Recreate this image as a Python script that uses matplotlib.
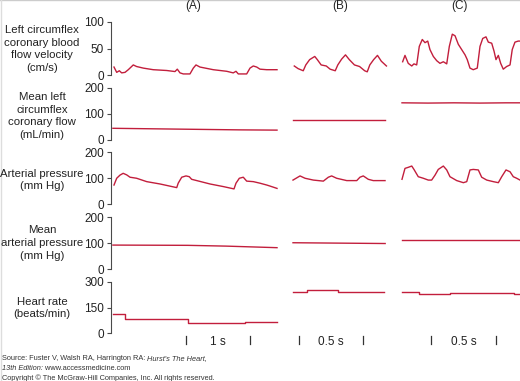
import matplotlib
matplotlib.use("Agg")
import matplotlib.pyplot as plt
import matplotlib.transforms as mtransforms
from matplotlib.lines import Line2D

plt.rcParams['font.family'] = ['Liberation Sans', 'DejaVu Sans']

# ---------------- data ----------------
columns = ["(A)", "(B)", "(C)"]
row_labels = [
    "Left circumflex\ncoronary blood\nflow velocity\n(cm/s)",
    "Mean left\ncircumflex\ncoronary flow\n(mL/min)",
    "Arterial pressure\n(mm Hg)",
    "Mean\narterial pressure\n(mm Hg)",
    "Heart rate\n(beats/min)",
]
row_ymax = [100, 200, 200, 200, 300]
row_ticks = [[0, 50, 100], [0, 100, 200], [0, 100, 200], [0, 100, 200], [0, 150, 300]]

# Column A (time in s)
a_vel_t = [0.047, 0.089, 0.13, 0.167, 0.219, 0.27, 0.348, 0.40, 0.505, 0.66, 0.87, 1.0, 1.036,
           1.078, 1.13, 1.234, 1.286, 1.328, 1.39, 1.598, 1.808, 1.91, 1.953, 1.989, 2.12, 2.172,
           2.223, 2.277, 2.328, 2.433, 2.484, 2.594]
a_vel_v = [15, 5, 8, 4, 5, 10, 19, 16, 13, 10, 8.5, 6.5, 11, 4, 2, 2, 13, 19, 15, 10, 7, 4, 7, 2,
           2, 13, 17, 15, 11, 10, 10, 10]
a_mflow_t = [0.03, 1.0, 2.0, 2.594]
a_mflow_v = [45, 42, 39, 38]
a_ap_t = [0.047, 0.089, 0.14, 0.19, 0.245, 0.297, 0.40, 0.558, 0.766, 1.027, 1.05, 1.105, 1.172,
          1.223, 1.26, 1.34, 1.547, 1.755, 1.922, 1.953, 2.005, 2.067, 2.12, 2.224, 2.328, 2.433,
          2.484, 2.594]
a_ap_v = [73, 99, 111, 118, 112, 103, 99, 86, 77, 63, 80, 103, 108, 105, 95, 90, 77, 67, 58, 80,
          99, 103, 88, 86, 80, 73, 69, 60]
a_map_t = [0.03, 1.2, 1.8, 2.594]
a_map_v = [92, 91, 88, 82]
a_hr_t = [0.03, 0.219, 1.21, 2.09, 2.594]
a_hr_v = [110, 80, 57, 63, 63]

# Column B
b_vel_t = [0.01, 0.04, 0.08, 0.10, 0.13, 0.17, 0.19, 0.22, 0.26, 0.29, 0.33, 0.35, 0.38, 0.41,
           0.44, 0.48, 0.52, 0.56, 0.58, 0.60, 0.63, 0.66, 0.69, 0.73]
b_vel_v = [17, 12, 8, 19, 29, 35, 29, 19, 17, 11, 8, 19, 30, 38, 29, 19, 16, 8, 6, 19, 29, 37, 26, 17]
b_mflow_t = [0.0, 0.72]
b_mflow_v = [77, 77]
b_ap_t = [0.0, 0.055, 0.094, 0.159, 0.237, 0.276, 0.302, 0.341, 0.42, 0.498, 0.523, 0.549, 0.588,
          0.627, 0.719]
b_ap_v = [92, 108, 99, 92, 88, 103, 108, 99, 90, 90, 103, 108, 95, 90, 90]
b_map_t = [0.0, 0.72]
b_map_v = [101, 98]
b_hr_t = [0.0, 0.107, 0.354, 0.714]
b_hr_v = [241, 251, 241, 241]

# Column C
c_vel_t = [0.005, 0.023, 0.048, 0.075, 0.092, 0.113, 0.133, 0.156, 0.177, 0.198, 0.215, 0.241,
           0.267, 0.292, 0.318, 0.344, 0.364, 0.387, 0.408, 0.433, 0.459, 0.485, 0.502, 0.523,
           0.548, 0.579, 0.60, 0.621, 0.646, 0.664, 0.69, 0.708, 0.723, 0.741, 0.759, 0.779,
           0.805, 0.831, 0.848, 0.869, 0.894, 0.908]
c_vel_v = [25, 37, 22, 17, 21, 19, 54, 67, 61, 64, 48, 35, 27, 22, 25, 21, 54, 77, 74, 58, 48, 38,
           29, 13, 10, 13, 54, 69, 72, 62, 60, 45, 29, 37, 22, 11, 16, 19, 48, 62, 64, 64]
c_mflow_t = [0.0, 0.2, 0.4, 0.6, 0.8, 0.908]
c_mflow_v = [143, 142, 143, 142, 143, 143]
c_ap_t = [0.0, 0.023, 0.048, 0.075, 0.092, 0.125, 0.164, 0.202, 0.228, 0.254, 0.279, 0.318, 0.344,
          0.369, 0.421, 0.472, 0.498, 0.523, 0.548, 0.587, 0.613, 0.652, 0.702, 0.741, 0.767,
          0.80, 0.831, 0.856, 0.882, 0.908]
c_ap_v = [95, 137, 141, 146, 133, 105, 99, 92, 92, 111, 133, 146, 131, 105, 90, 82, 86, 131, 133,
          131, 103, 92, 86, 82, 105, 131, 124, 105, 99, 92]
c_map_t = [0.0, 0.908]
c_map_v = [112, 112]
c_hr_t = [0.0, 0.128, 0.37, 0.862, 0.908]
c_hr_v = [241, 228, 237, 229, 229]

traces = [
    [(a_vel_t, a_vel_v), (b_vel_t, b_vel_v), (c_vel_t, c_vel_v)],
    [(a_mflow_t, a_mflow_v), (b_mflow_t, b_mflow_v), (c_mflow_t, c_mflow_v)],
    [(a_ap_t, a_ap_v), (b_ap_t, b_ap_v), (c_ap_t, c_ap_v)],
    [(a_map_t, a_map_v), (b_map_t, b_map_v), (c_map_t, c_map_v)],
    [(a_hr_t, a_hr_v), (b_hr_t, b_hr_v), (c_hr_t, c_hr_v)],
]

scale_marks = [[1.17, 2.17], [0.047, 0.547], [0.223, 0.723]]
scale_labels = ["1 s", "0.5 s", "0.5 s"]

# ---------------- layout ----------------
W, H = 520, 381
fig = plt.figure(figsize=(W / 100, H / 100), dpi=100)
fig.patch.set_facecolor("white")

row_px = [(22, 75), (88, 140), (152, 204), (217, 269), (282, 333)]
col_px = [(111, 2.6, 64.0), (293, 0.75, 128.0), (402, 0.92, 130.0)]  # left, xmax (s), px per s
col_title_x = [193, 340, 460]
label_cx = 42
label_cy = [49, 116, 180, 243, 308]

LINE = "#C21E3C"
AX = "#4a4a4a"

def frac(x, y):
    return x / W, 1 - y / H

row5_axes = []
for r, (top, bot) in enumerate(row_px):
    for c, (left, xmax, pps) in enumerate(col_px):
        width = xmax * pps
        ax = fig.add_axes([left / W, 1 - bot / H, width / W, (bot - top) / H])
        ax.set_xlim(0, xmax)
        ax.set_ylim(0, row_ymax[r])
        ax.patch.set_alpha(0)
        for s in ["top", "right", "bottom"]:
            ax.spines[s].set_visible(False)
        ax.set_xticks([])
        if c == 0:
            ax.spines["left"].set_color(AX)
            ax.spines["left"].set_linewidth(0.8)
            ax.set_yticks(row_ticks[r])
            ax.tick_params(axis="y", direction="out", length=3, width=0.8, color=AX,
                           labelsize=8.5, labelcolor="#222222", pad=2)
        else:
            ax.spines["left"].set_visible(False)
            ax.set_yticks([])
        t, v = traces[r][c]
        kw = dict(color=LINE, lw=1.0, clip_on=False)
        if r == 4:
            ax.plot(t, v, drawstyle="steps-post", **kw)
        else:
            ax.plot(t, v, **kw)
        if r == 4:
            row5_axes.append(ax)

# time scale bars
for c, ax in enumerate(row5_axes):
    tr = mtransforms.blended_transform_factory(ax.transData, ax.transAxes)
    for m in scale_marks[c]:
        ax.plot([m, m], [-0.06, -0.215], transform=tr, color="#333333", lw=0.9, clip_on=False)
    mid = sum(scale_marks[c]) / 2
    ax.text(mid, -0.17, scale_labels[c], transform=tr, ha="center", va="center",
            fontsize=8.5, color="#222222")

# column titles
for c, name in enumerate(columns):
    fig.text(*frac(col_title_x[c], 6), name, ha="center", va="center", fontsize=8.5, color="#222222")

# row labels
for r, lab in enumerate(row_labels):
    fig.text(*frac(label_cx, label_cy[r]), lab, ha="center", va="center", multialignment="center",
             fontsize=8.2, linespacing=1.32, color="#222222")

# source footer
bg = fig.add_axes([0, 0, 1, 1])
bg.set_axis_off()
bg.patch.set_alpha(0)
fs = 5.3
col = "#333333"
t1 = bg.text(2 / W, 1 - 359 / H, "Source: Fuster V, Walsh RA, Harrington RA: ", fontsize=fs, color=col,
             va="center", ha="left", transform=bg.transAxes)
bg.annotate("Hurst's The Heart,", xy=(1, 0), xycoords=t1, va="bottom", ha="left",
            fontsize=fs, color=col, style="italic")
t2 = bg.text(2 / W, 1 - 368 / H, "13th Edition:", fontsize=fs, color=col, style="italic",
             va="center", ha="left", transform=bg.transAxes)
bg.annotate(" www.accessmedicine.com", xy=(1, 0), xycoords=t2, va="bottom", ha="left",
            fontsize=fs, color=col)
bg.text(2 / W, 1 - 378 / H, "Copyright \u00a9 The McGraw-Hill Companies, Inc. All rights reserved.",
        fontsize=fs, color=col, va="center", ha="left", transform=bg.transAxes)

# light frame at top and left
bg.add_line(Line2D([0, 1], [0.999, 0.999], transform=bg.transAxes, color="#cccccc", lw=1))
bg.add_line(Line2D([0.001, 0.001], [0, 1], transform=bg.transAxes, color="#dddddd", lw=1))

fig.savefig("out.png", dpi=100)
